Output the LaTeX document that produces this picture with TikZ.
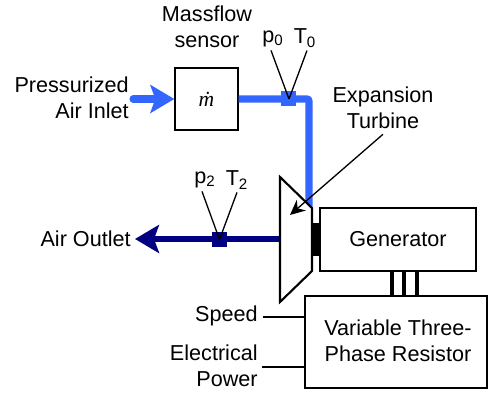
\documentclass[tikz,border=0pt]{standalone}
\usepackage{fontspec}
\setmainfont{Liberation Sans}
\newfontfamily\flowfont{Liberation Serif}
\usepackage{tikz}
\usetikzlibrary{shapes,arrows.meta}
\definecolor{inletblue}{RGB}{51,102,255}
\definecolor{outletblue}{RGB}{0,0,128}
\tikzstyle{every node} = [font=\fontsize{12.3}{14.8}\selectfont]
\tikzstyle{unit} = [rectangle, draw, line width=0.75pt, text centered, inner sep=0pt]
\tikzstyle{label} = [text centered, align=center, inner sep=0pt]
\tikzstyle{side} = [label, align=right, anchor=east]
\tikzstyle{probe} = [rectangle, minimum size=0.3cm, inner sep=0pt]
\tikzstyle{pipein} = [inletblue, line width=4pt]
\tikzstyle{pipeout} = [outletblue, line width=3.7pt]
\tikzstyle{leader} = [line width=0.75pt]

\begin{document}
\begin{tikzpicture}[x=0.02cm, y=-0.02cm, node distance = 2cm, auto]
    \useasboundingbox (0,0) rectangle (488,394);
    % Place nodes
    % Inlet side
    \node [unit, minimum width=1.26cm, minimum height=1.24cm] (Mf) at (206.5,99) {\flowfont\itshape\.m};
    \node [label] (MfLabel) at (207,27) {Massflow\\sensor};
    \node [side] (Inlet) at (129,98) {Pressurized\\Air Inlet};
    \node [probe, fill=inletblue, right of=Mf, node distance=1.65cm] (S0) {};
    \node [label] (P0) at (273,39) {p\textsubscript{0}};
    \node [label] (T0) at (305,38) {T\textsubscript{0}};

    % Machine
    \coordinate (TurbA) at (280,177);
    \coordinate (TurbB) at (312,208);
    \coordinate (TurbC) at (312,271);
    \coordinate (TurbD) at (280,302);
    \coordinate (TurbIn) at (309,220);
    \coordinate (TurbOut) at (281,239);
    \coordinate (ExpTip) at (290,215);
    \node [unit, minimum width=3.12cm, minimum height=1.26cm] (Gen) at (398,239.5) {Generator};
    \node [unit, fill=black, minimum width=0.16cm, minimum height=0.62cm, left of=Gen, node distance=1.64cm] (Shaft) {};
    \node [unit, minimum width=3.64cm, minimum height=1.84cm, align=center] (Res) at (396,342) {};
    \node [label] (ResLabel) at (398,341) {Variable Three-\\Phase Resistor};
    \node [label] (Exp) at (383,108) {Expansion\\Turbine};

    % Outlet side
    \node [side, inner sep=0.08cm] (Outlet) at (135,239) {Air Outlet};
    \node [probe, fill=outletblue] (S2) at (219.5,239.5) {};
    \node [label] (P2) at (205,180) {p\textsubscript{2}};
    \node [label] (T2) at (237,180) {T\textsubscript{2}};

    % Signals
    \node [side] (Speed) at (258,316) {Speed};
    \node [side] (Power) at (258,366) {Electrical\\Power};

    % Draw edges
    % Air path
    \draw [pipein, line cap=round, -{Stealth[length=0.48cm, width=0.56cm, inset=0.1cm]}] (Inlet.east) ++(4,1) -- (Mf.west);
    \draw [pipein, rounded corners=0.04cm] (Mf.east) -- (S0.center) -| (TurbIn);
    \draw [pipeout, -{Stealth[length=0.48cm, width=0.56cm, inset=0.1cm]}] (TurbOut) -- (Outlet.east);

    % Turbine and shaft
    \draw [line width=1.2pt, line join=miter, fill=white] (TurbA) -- (TurbB) -- (TurbC) -- (TurbD) -- cycle;

    % Probes
    \draw [leader] (P0.south) ++(-2,3) -- (S0.center);
    \draw [leader] (T0.south) ++(2,3) -- (S0.center);
    \draw [leader] (P2.south) ++(-3,3) -- (S2.center);
    \draw [leader] (T2.south) ++(0,3) -- (S2.center);
    \draw [leader, -{Stealth[length=0.3cm, width=0.28cm]}] (Exp.south) ++(0,5) -- (ExpTip);

    % Generator to resistor
    \draw [line width=2.2pt] (392,271) -- (392,296);
    \draw [line width=2.2pt] (404,271) -- (404,296);
    \draw [line width=2.2pt] (417,271) -- (417,296);

    % Signals
    \draw [leader] (Speed.east) ++(5,1) -- ++(42,0);
    \draw [leader] (Power.east) ++(4,1) -- ++(43,0);
\end{tikzpicture}
\end{document}
